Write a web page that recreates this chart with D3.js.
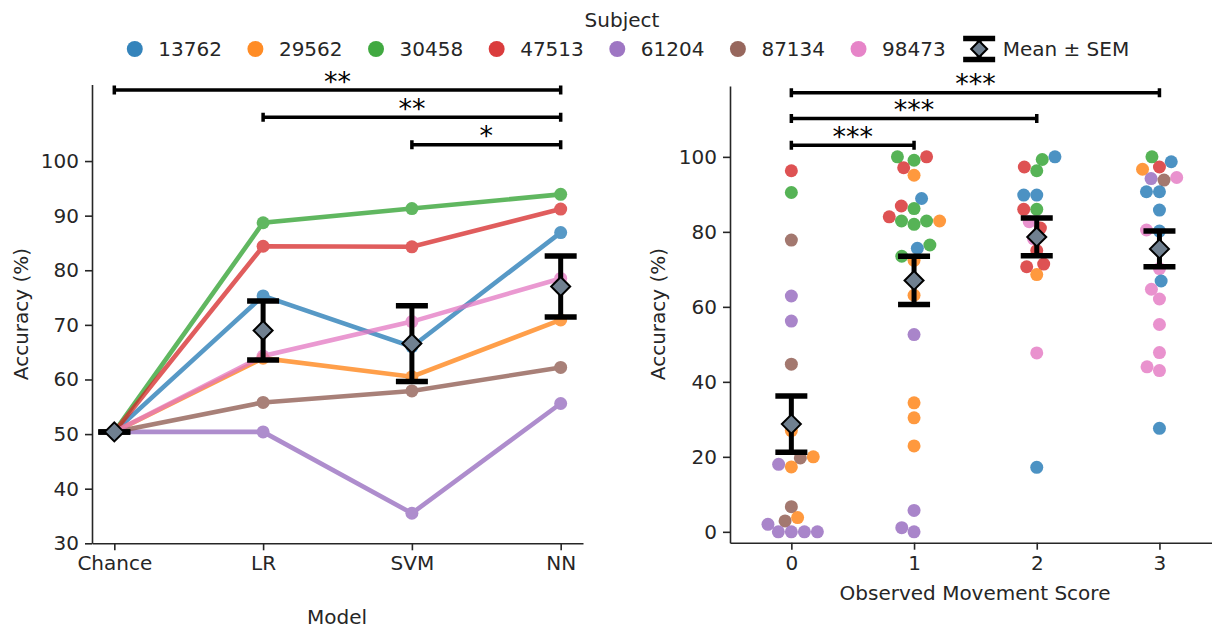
<!DOCTYPE html>
<html><head><meta charset="utf-8">
<script src="https://cdn.jsdelivr.net/npm/d3@7"></script>
<style>
body{margin:0;background:#fff}
svg{display:block}
text{font-family:"DejaVu Sans",sans-serif}
</style>
</head><body><svg id="c" width="1212" height="628"></svg>
<script>
// ---------------- DATA ----------------
const subjects = ["13762","29562","30458","47513","61204","87134","98473"];
const subjectColors = ["#1f77b4","#ff7f0e","#2ca02c","#d62728","#9467bd","#8c564b","#e377c2"];
const models = ["Chance","LR","SVM","NN"];
const acc_13762 = [50.4, 75.3, 66.0, 86.9];
const acc_29562 = [50.4, 63.9, 60.5, 70.9];
const acc_30458 = [50.4, 88.7, 91.3, 93.9];
const acc_47513 = [50.4, 84.4, 84.3, 91.2];
const acc_61204 = [50.4, 50.4, 35.5, 55.6];
const acc_87134 = [50.4, 55.8, 57.9, 62.2];
const acc_98473 = [50.4, 64.3, 70.6, 78.5];
const modelAcc = [acc_13762, acc_29562, acc_30458, acc_47513, acc_61204, acc_87134, acc_98473];

const scores = [0, 1, 2, 3];
const score0Acc  = [96.3, 90.5, 77.8, 62.9, 56.2, 44.7, 27.0, 20.0, 19.7, 18.0, 17.3, 6.7, 3.8, 2.9, 2.0, 0, 0, 0, 0];
const score0Subj = ["47513","30458","87134","61204","61204","87134","29562","29562","87134","61204","29562","87134","29562","87134","61204","61204","61204","61204","61204"];
const score1Acc  = [100, 100, 99.1, 97.1, 95.1, 88.9, 86.9, 86.2, 84.0, 82.9, 82.9, 82.9, 82.0, 76.5, 75.6, 73.5, 72.4, 63.1, 52.6, 34.4, 30.4, 22.9, 5.7, 1.1, 0];
const score1Subj = ["47513","30458","30458","47513","29562","13762","47513","30458","47513","30458","30458","29562","30458","30458","13762","30458","29562","29562","61204","29562","29562","29562","61204","61204","61204"];
const score2Acc  = [100, 99.3, 97.3, 96.3, 89.8, 89.8, 86.0, 86.0, 82.7, 81.0, 78.2, 75.0, 71.4, 70.7, 68.6, 47.7, 17.2];
const score2Subj = ["13762","30458","47513","30458","13762","13762","30458","47513","98473","47513","98473","47513","47513","47513","29562","98473","13762"];
const score3Acc  = [100, 98.7, 97.3, 96.7, 94.5, 94.2, 93.8, 90.7, 90.7, 85.8, 80.5, 80.2, 70.2, 66.9, 64.7, 62.1, 55.3, 47.8, 44.0, 43.0, 27.6];
const score3Subj = ["30458","13762","47513","29562","98473","61204","87134","13762","13762","13762","98473","13762","98473","13762","98473","98473","98473","98473","98473","98473","13762"];
const scoreAcc  = [score0Acc, score1Acc, score2Acc, score3Acc];
const scoreSubj = [score0Subj, score1Subj, score2Subj, score3Subj];

const leftTicks  = [30, 40, 50, 60, 70, 80, 90, 100];
const rightTicks = [0, 20, 40, 60, 80, 100];
// significance annotations: [from index, to index, level (data units), label]
const leftSig  = [[0, 3, 113, "**"], [1, 3, 108, "**"], [2, 3, 103, "*"]];
const rightSig = [[0, 3, 117.1, "***"], [0, 2, 110.2, "***"], [0, 1, 103.1, "***"]];

// ---------------- HELPERS ----------------
const ink = "#262626";
const FS = 20;
const svg = d3.select("#c");
const colorOf = d3.scaleOrdinal().domain(subjects).range(subjectColors);
function meanSem(a){
  const m = d3.mean(a), sd = d3.deviation(a);
  return [m, sd / Math.sqrt(a.length)];
}
function styleAxis(g){
  g.selectAll("path.domain").attr("stroke", ink).attr("stroke-width", 1.6);
  g.selectAll(".tick line").attr("stroke", ink).attr("stroke-width", 1.6);
  g.selectAll(".tick text").attr("fill", ink).style("font-size", FS + "px").attr("font-family", "DejaVu Sans");
}
function diamond(g, x, y, s){
  g.append("path").attr("d", `M${x},${y-s}L${x+s},${y}L${x},${y+s}L${x-s},${y}Z`)
    .attr("fill", "#708090").attr("stroke", "#000").attr("stroke-width", 2);
}
function errBar(g, x, y0, y1, ym){
  g.append("line").attr("x1", x).attr("x2", x).attr("y1", y0).attr("y2", y1).attr("stroke", "#000").attr("stroke-width", 5);
  [y0, y1].forEach(yy => g.append("line").attr("x1", x - 16).attr("x2", x + 16).attr("y1", yy).attr("y2", yy)
    .attr("stroke", "#000").attr("stroke-width", 5.5));
  diamond(g, x, ym, 9.5);
}
function brackets(g, sig, x, y){
  sig.forEach(([a, b, lev, lab]) => {
    const yy = y(lev), xa = x(a), xb = x(b);
    g.append("path").attr("d", `M${xa},${yy - 4.5}V${yy + 4.5}M${xa},${yy}H${xb}M${xb},${yy - 4.5}V${yy + 4.5}`)
      .attr("stroke", "#000").attr("stroke-width", 3.5).attr("fill", "none");
    g.append("text").attr("x", (xa + xb) / 2).attr("y", yy + 0.5).attr("text-anchor", "middle")
      .style("font-size", "27px").attr("fill", "#000").text(lab);
  });
}
// seaborn-style beeswarm (points processed in ascending value order)
function swarm(ys, d){
  const order = d3.range(ys.length).sort((a, b) => (ys[b] - ys[a]) || (a - b));
  const placed = [], xs = new Array(ys.length);
  for (const i of order){
    const y = ys[i];
    const nb = [];
    for (let j = placed.length - 1; j >= 0; j--){
      if (Math.abs(placed[j].y - y) < d) nb.push(placed[j]); else break;
    }
    const cands = [0];
    let leftFirst = true;
    nb.forEach(p => {
      const dy = y - p.y;
      const dx = Math.sqrt(Math.max(d * d - dy * dy, 0)) * 1.05;
      if (leftFirst) cands.push(p.x - dx, p.x + dx); else cands.push(p.x + dx, p.x - dx);
      leftFirst = !leftFirst;
    });
    const sorted = cands.map((c, k) => [c, k]).sort((a, b) => (Math.abs(a[0]) - Math.abs(b[0])) || (a[1] - b[1])).map(a => a[0]);
    const x = sorted.find(c => nb.every(p => (p.x - c) ** 2 + (p.y - y) ** 2 >= d * d - 1e-6));
    xs[i] = x; placed.push({x, y});
  }
  return xs;
}

// ---------------- LEFT PANEL ----------------
const xL = d3.scaleLinear().domain([-0.15, 3.15]).range([92, 583]);
const yL = d3.scaleLinear().domain([30, 114]).range([543.3, 84.6]);
const gL = svg.append("g");
gL.append("g").attr("transform", "translate(0,543.3)")
  .call(d3.axisBottom(xL).tickValues([0, 1, 2, 3]).tickFormat(i => models[i]).tickSize(7).tickSizeOuter(0).tickPadding(6))
  .call(styleAxis);
gL.append("g").attr("transform", "translate(92,0)")
  .call(d3.axisLeft(yL).tickValues(leftTicks).tickSize(7).tickSizeOuter(0).tickPadding(6))
  .call(styleAxis);
const lineL = d3.line().x((d, i) => xL(i)).y(d => yL(d));
modelAcc.forEach((arr, s) => {
  const c = subjectColors[s];
  const g = gL.append("g").attr("opacity", 0.75);
  g.append("path").attr("d", lineL(arr)).attr("fill", "none").attr("stroke", c).attr("stroke-width", 4.6);
  g.selectAll("circle").data(arr).join("circle").attr("cx", (d, i) => xL(i)).attr("cy", d => yL(d)).attr("r", 6.5).attr("fill", c);
});
models.forEach((m, i) => {
  const vals = modelAcc.map(a => a[i]);
  const [mu, se] = meanSem(vals);
  errBar(gL, xL(i), yL(mu + se), yL(mu - se), yL(mu));
});
brackets(gL, leftSig, xL, yL);
gL.append("text").attr("transform", "translate(28,314) rotate(-90)").attr("text-anchor", "middle")
  .style("font-size", FS + "px").attr("fill", ink).text("Accuracy (%)");
gL.append("text").attr("x", 337).attr("y", 624).attr("text-anchor", "middle")
  .style("font-size", FS + "px").attr("fill", ink).text("Model");

// ---------------- RIGHT PANEL ----------------
const xR = d3.scaleLinear().domain([-0.5, 3.5]).range([730, 1220.8]);
const yR = d3.scaleLinear().domain([-2.9, 118.9]).range([542.7, 86]);
const gR = svg.append("g");
gR.append("g").attr("transform", "translate(0,542.7)")
  .call(d3.axisBottom(xR).tickValues(scores).tickFormat(d3.format("d")).tickSize(7).tickSizeOuter(0).tickPadding(6))
  .call(styleAxis);
gR.append("g").attr("transform", "translate(730,0)")
  .call(d3.axisLeft(yR).tickValues(rightTicks).tickSize(7).tickSizeOuter(0).tickPadding(6))
  .call(styleAxis);
const R = 6.5;
scores.forEach((sc, k) => {
  const ys = scoreAcc[k].map(v => yR(v));
  const offs = swarm(ys, 2 * R - 0.6);
  gR.append("g").selectAll("circle").data(scoreAcc[k]).join("circle")
    .attr("cx", (d, i) => xR(sc) + offs[i]).attr("cy", d => yR(d)).attr("r", R)
    .attr("fill", (d, i) => colorOf(scoreSubj[k][i])).attr("fill-opacity", 0.8);
});
scores.forEach((sc, k) => {
  const [mu, se] = meanSem(scoreAcc[k]);
  errBar(gR, xR(sc), yR(mu + se), yR(mu - se), yR(mu));
});
brackets(gR, rightSig, xR, yR);
gR.append("text").attr("transform", "translate(665,314) rotate(-90)").attr("text-anchor", "middle")
  .style("font-size", FS + "px").attr("fill", ink).text("Accuracy (%)");
gR.append("text").attr("x", 975).attr("y", 600).attr("text-anchor", "middle")
  .style("font-size", FS + "px").attr("fill", ink).text("Observed Movement Score");

// ---------------- LEGEND ----------------
const gLeg = svg.append("g");
gLeg.append("text").attr("x", 622).attr("y", 27).attr("text-anchor", "middle")
  .style("font-size", FS + "px").attr("fill", ink).text("Subject");
const rowY = 49;
const items = gLeg.append("g");
let cx = 0;
const entries = subjects.map((s, i) => ({label: s, color: subjectColors[i]})).concat([{label: "Mean \u00b1 SEM", err: true}]);
entries.forEach((e, i) => {
  const g = items.append("g");
  if (e.err){
    [rowY - 10.5, rowY + 10.5].forEach(yy => g.append("line").attr("x1", cx - 16).attr("x2", cx + 16).attr("y1", yy).attr("y2", yy)
      .attr("stroke", "#000").attr("stroke-width", 5.5));
    g.append("line").attr("x1", cx).attr("x2", cx).attr("y1", rowY - 10).attr("y2", rowY + 10).attr("stroke", "#000").attr("stroke-width", 5);
    diamond(g, cx, rowY, 8);
  } else {
    g.append("circle").attr("cx", cx).attr("cy", rowY).attr("r", 8).attr("fill", e.color).attr("fill-opacity", 0.9);
  }
  const t = g.append("text").attr("x", cx + 23.5).attr("y", rowY + 7).style("font-size", FS + "px").attr("fill", ink).text(e.label);
  cx = cx + 23.5 + t.node().getComputedTextLength() + 33.5;
});
const bb = items.node().getBBox();
items.attr("transform", `translate(${628 - (bb.x + bb.width / 2)},0)`);
</script>
</body></html>
